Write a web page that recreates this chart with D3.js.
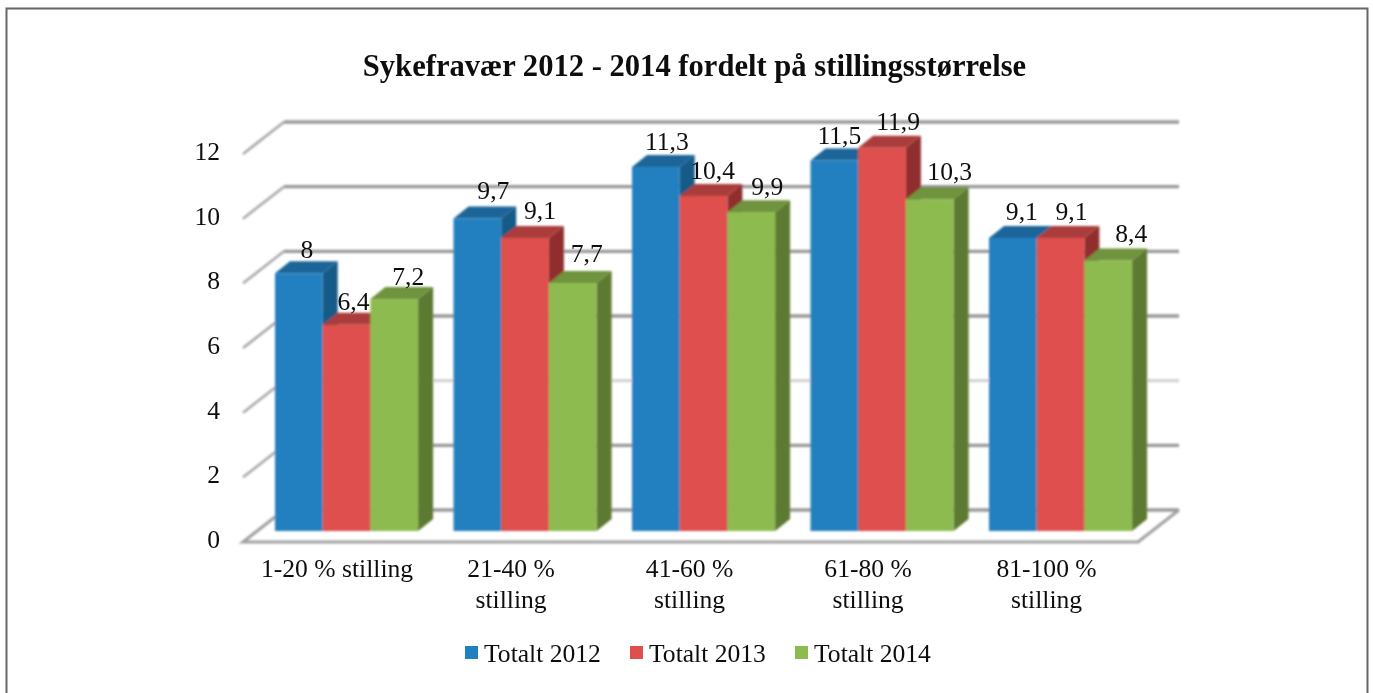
<!DOCTYPE html>
<html><head><meta charset="utf-8">
<script src="https://cdn.jsdelivr.net/npm/d3@7"></script>
<style>html,body{margin:0;padding:0;background:#fff}svg{display:block}text{font-family:"Liberation Serif",serif;fill:#111}</style>
</head><body><svg id="c" width="1373" height="693"></svg>
<script>
const title = "Sykefravær 2012 - 2014 fordelt på stillingsstørrelse";
const categories = ["1-20 % stilling","21-40 %\nstilling","41-60 %\nstilling","61-80 %\nstilling","81-100 %\nstilling"];
const seriesNames = ["Totalt 2012","Totalt 2013","Totalt 2014"];
const totalt2012 = [8,9.7,11.3,11.5,9.1];
const totalt2013 = [6.4,9.1,10.4,11.9,9.1];
const totalt2014 = [7.2,7.7,9.9,10.3,8.4];
const yTicks = [0,2,4,6,8,10,12];
const series = [totalt2012,totalt2013,totalt2014];

// label nudges [dx,dy] relative to the default above-bar position, per series/category
const labelNudge = [
 [[0,0],[8,-5],[3,-2],[-3,-2],[1,-3]],
 [[-1,0],[7,-4],[1,-2],[8,-3],[3,-3]],
 [[6,1],[6,-6],[8,-2],[12,-4],[15,-3]]
];

const colors = [
 {front:"#2080c0",top:"#1b6599",side:"#175a88"},
 {front:"#de4f4d",top:"#aa3d3b",side:"#902f2e"},
 {front:"#8dbb50",top:"#6f933d",side:"#5d7a32"}
];
const svg = d3.select("#c");
const defs = svg.append("defs");
const addBlur=(id,sd)=>defs.append("filter").attr("id",id)
  .attr("filterUnits","userSpaceOnUse").attr("x",0).attr("y",0).attr("width",1373).attr("height",693)
  .append("feGaussianBlur").attr("stdDeviation",sd);
addBlur("soft",0.85); addBlur("softText",0.4);

// frame
svg.append("path").attr("d","M6.5,693V8.5H1367.5V693").attr("fill","none").attr("stroke","#666").attr("stroke-width",2);

const frontX0=243, frontX1=1138, backX0=284, backX1=1179, frontBase=542, backBase=510;
const grid = d3.scaleLinear().domain([0,12]).range([0,388]);
const h = d3.scaleLinear().domain([0,12]).range([0,386.5]);
const barW = 47.7, groupStart = d3.scaleLinear().domain([0,1]).range([275,453.5]);
const depthX=15, depthY=12, barBase=531;

const g = svg.append("g").attr("filter","url(#soft)");
// gridlines
yTicks.forEach(t=>{
  const col = t===4 ? "#d4d4d4" : "#989898";
  if(t>0) g.append("line").attr("x1",frontX0).attr("y1",frontBase-grid(t)).attr("x2",backX0).attr("y2",backBase-grid(t)).attr("stroke","#a8a8a8").attr("stroke-width",2.6);
  g.append("line").attr("x1",backX0).attr("x2",backX1).attr("y1",backBase-grid(t)).attr("y2",backBase-grid(t)).attr("stroke",col).attr("stroke-width",3.4);
});
// floor
g.append("path").attr("d",`M${backX0},${backBase}L${frontX0},${frontBase}H${frontX1}L${backX1},${backBase}`)
 .attr("fill","none").attr("stroke","#a0a0a0").attr("stroke-width",3);

// bars
categories.forEach((c,i)=>{
  series.forEach((s,k)=>{
    const v=s[i], L=groupStart(i)+k*barW, R=L+barW, T=barBase-h(v), col=colors[k];
    g.append("path").attr("d",`M${R},${T}l${depthX},${-depthY}V${barBase-depthY}l${-depthX},${depthY}Z`).attr("fill",col.side);
    g.append("path").attr("d",`M${L},${T}l${depthX},${-depthY}H${R+depthX}l${-depthX},${depthY}Z`).attr("fill",col.top);
    g.append("rect").attr("x",L).attr("y",T).attr("width",barW).attr("height",h(v)).attr("fill",col.front);
  });
});

const fs=25.6;
const t = svg.append("g").attr("filter","url(#softText)");
// value labels
categories.forEach((c,i)=>{
  series.forEach((s,k)=>{
    const v=s[i], L=groupStart(i)+k*barW, T=barBase-h(v), n=labelNudge[k][i];
    t.append("text").attr("x",L+barW/2+8+n[0]).attr("y",T-15+n[1]).attr("text-anchor","middle")
      .attr("font-size",fs).text(String(v).replace(".",","));
  });
});

// y tick labels
yTicks.forEach(v=>{
  t.append("text").attr("x",220).attr("y",frontBase-grid(v)+6).attr("text-anchor","end").attr("font-size",fs).text(v);
});

// category labels
categories.forEach((c,i)=>{
  const cx = groupStart(i)+barW*1.5-(i===0?9.5:14);
  c.split("\n").forEach((ln,j)=>{
    t.append("text").attr("x",cx).attr("y",577+j*31).attr("text-anchor","middle").attr("font-size",fs).text(ln);
  });
});

// title
t.append("text").attr("x",694.5).attr("y",76).attr("text-anchor","middle").attr("font-size",30.6).attr("font-weight","bold").text(title);

// legend
const legX=[465,630,795];
seriesNames.forEach((n,k)=>{
  svg.append("rect").attr("x",legX[k]).attr("y",646).attr("width",13).attr("height",13).attr("fill",colors[k].front);
  t.append("text").attr("x",legX[k]+19).attr("y",662).attr("font-size",fs).text(n);
});
</script></body></html>
